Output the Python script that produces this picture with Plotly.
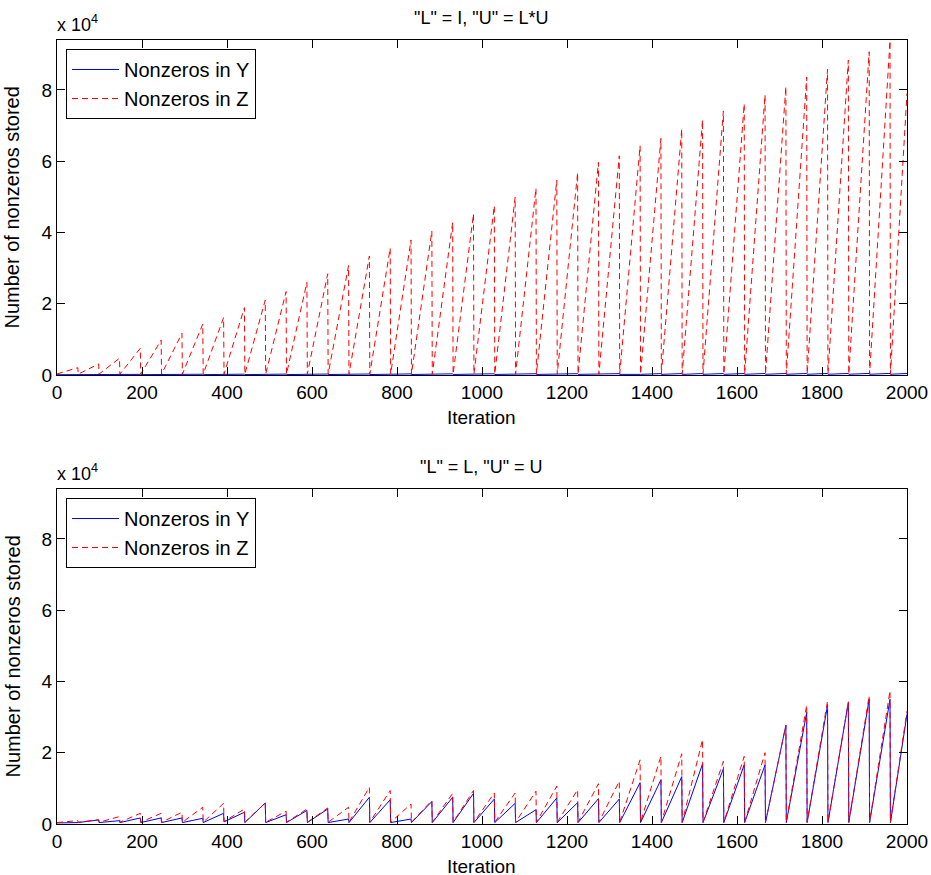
import plotly.graph_objects as go

# ---------------- data ----------------
reset_iters = [49, 98, 147, 196, 245, 294, 343, 392, 441, 490,
               539, 588, 637, 686, 735, 784, 833, 882, 931, 980,
               1029, 1078, 1127, 1176, 1225, 1274, 1323, 1372, 1421, 1470,
               1519, 1568, 1617, 1666, 1715, 1764, 1813, 1862, 1911, 1960, 2000]

# top panel: "L" = I, "U" = L*U
top_z_start = [300, 250, 250, 250, 250, 250, 250, 250, 250, 250,
               250, 250, 250, 250, 250, 250, 250, 250, 250, 250,
               250, 250, 250, 250, 250, 250, 250, 250, 250, 250,
               250, 250, 250, 250, 250, 250, 250, 250, 250, 250, 250]
top_z_peak = [2050, 3100, 4700, 7500, 9800, 11700, 14300, 16100, 18900, 21000,
              23400, 26000, 28400, 30700, 33400, 35600, 37900, 40400, 42800, 45200,
              47500, 49900, 52400, 54700, 56800, 59700, 61500, 64300, 66400, 69000,
              71600, 74100, 76100, 78600, 80900, 83600, 85800, 88400, 90700, 93800, 79000]
top_y_start = [80, 80, 90, 90, 100, 100, 100, 110, 110, 110,
               120, 120, 120, 130, 130, 130, 140, 140, 140, 150,
               150, 150, 160, 160, 160, 170, 170, 170, 180, 180,
               180, 190, 190, 190, 200, 200, 200, 210, 210, 210, 220]
top_y_peak = [150, 160, 170, 180, 190, 200, 210, 220, 230, 240,
              250, 260, 270, 280, 290, 300, 310, 320, 330, 340,
              350, 355, 360, 365, 370, 375, 380, 385, 390, 395,
              400, 405, 410, 415, 420, 425, 430, 435, 440, 445, 420]

# bottom panel: "L" = L, "U" = U
bot_y_start = [300, 400, 400, 400, 400, 400, 400, 400, 600, 400,
               400, 400, 400, 400, 400, 400, 400, 400, 400, 400,
               400, 400, 400, 400, 400, 400, 400, 400, 400, 400,
               400, 400, 400, 400, 400, 400, 400, 400, 400, 400, 400]
bot_y_peak = [470, 1130, 940, 1700, 1700, 1700, 1600, 3000, 3300, 5900,
              2600, 3800, 4200, 1400, 7500, 6800, 1400, 6300, 7500, 8600,
              7000, 5800, 4000, 7300, 6000, 7100, 7000, 11600, 12400, 13300,
              16900, 15500, 16600, 16600, 27700, 31300, 33300, 34100, 35000, 35000, 30800]
bot_z_start = [400, 500, 500, 500, 500, 500, 500, 500, 700, 500,
               500, 500, 500, 500, 500, 500, 500, 500, 500, 500,
               500, 500, 500, 500, 500, 500, 500, 500, 500, 500,
               500, 500, 500, 500, 500, 500, 500, 500, 500, 500, 500]
bot_z_peak = [940, 1220, 2070, 3000, 3000, 3300, 4700, 5800, 4200, 5900,
              3600, 4200, 4500, 4700, 10300, 9400, 5600, 6600, 8600, 9400,
              8700, 8700, 9200, 10600, 9600, 11300, 12000, 18000, 19000, 19700,
              23700, 17600, 19000, 20000, 27700, 33300, 34500, 34300, 36000, 37400, 31700]

x_ticks = [0, 200, 400, 600, 800, 1000, 1200, 1400, 1600, 1800, 2000]
y_ticks = [0, 20000, 40000, 60000, 80000]
y_tick_text = ["0", "2", "4", "6", "8"]
titles = ['"L" = I, "U" = L*U', '"L" = L, "U" = U']


def saw(starts, peaks):
    xs, ys = [], []
    prev = 0
    for s, p, r in zip(starts, peaks, reset_iters):
        xs += [prev + 1 if prev else 0, r]
        ys += [s, p]
        prev = r
    return xs, ys


W, H = 931, 875
FONT = "Liberation Sans, Arial, Helvetica, sans-serif"
x0, x1 = 57, 907
panels = [(40, 375), (489, 824)]


def fx(px):
    return px / W


def fy(py):
    return 1 - py / H


fig = go.Figure()
blue = "rgb(0,0,255)"
red = "rgb(255,0,0)"

data_sets = [((top_y_start, top_y_peak), (top_z_start, top_z_peak)),
             ((bot_y_start, bot_y_peak), (bot_z_start, bot_z_peak))]

for i, ((ys_, yp_), (zs_, zp_)) in enumerate(data_sets):
    xa = "x" if i == 0 else "x2"
    ya = "y" if i == 0 else "y2"
    lg = "legend" if i == 0 else "legend2"
    bx, by = saw(ys_, yp_)
    zx, zy = saw(zs_, zp_)
    fig.add_trace(go.Scatter(x=bx, y=by, mode="lines", name="Nonzeros in Y",
                             line=dict(color=blue, width=1), xaxis=xa, yaxis=ya,
                             legend=lg))
    fig.add_trace(go.Scatter(x=zx, y=zy, mode="lines", name="Nonzeros in Z",
                             line=dict(color=red, width=1, dash="6px,4px"),
                             xaxis=xa, yaxis=ya, legend=lg))

axis_common = dict(showgrid=False, zeroline=False, showline=True, linecolor="black",
                   linewidth=1, mirror="ticks", ticks="inside", ticklen=8,
                   tickcolor="black", automargin=False,
                   tickfont=dict(family=FONT, size=19, color="black"))

for i, (t, b) in enumerate(panels):
    sfx = "" if i == 0 else "2"
    fig.layout["xaxis" + sfx] = dict(axis_common, domain=[fx(x0), fx(x1)], range=[0, 2000],
                                      tickvals=x_ticks, anchor="y" + sfx)
    fig.layout["yaxis" + sfx] = dict(axis_common, domain=[fy(b), fy(t)], range=[0, 94000],
                                      tickvals=y_ticks, ticktext=y_tick_text,
                                      anchor="x" + sfx)

annotations = []
legends = {}
for i, (t, b) in enumerate(panels):
    cx = (x0 + x1) / 2
    annotations.append(dict(text=titles[i], x=fx(cx), y=fy(t - 22), xref="paper", yref="paper",
                            showarrow=False, xanchor="center", yanchor="middle",
                            font=dict(family=FONT, size=18, color="black")))
    annotations.append(dict(text="x 10<sup>4</sup>", x=fx(x0 - 2), y=fy(t - 3), xref="paper",
                            yref="paper", showarrow=False, xanchor="left", yanchor="bottom",
                            font=dict(family=FONT, size=18, color="black")))
    annotations.append(dict(text="Number of nonzeros stored", x=fx(12), y=fy((t + b) / 2),
                            xref="paper", yref="paper", showarrow=False, textangle=-90,
                            xanchor="center", yanchor="middle",
                            font=dict(family=FONT, size=20, color="black")))
    annotations.append(dict(text="Iteration", x=fx(cx), y=fy(b + 30), xref="paper",
                            yref="paper", showarrow=False, xanchor="center", yanchor="top",
                            font=dict(family=FONT, size=19, color="black")))
    legends["legend" if i == 0 else "legend2"] = dict(
        x=fx(66), y=fy(t + 9), xanchor="left", yanchor="top",
        bgcolor="white", bordercolor="black", borderwidth=1,
        font=dict(family=FONT, size=20, color="black"), tracegroupgap=0,
        itemwidth=47)

fig.update_layout(width=W, height=H, margin=dict(l=0, r=0, t=0, b=0),
                  paper_bgcolor="white", plot_bgcolor="white", showlegend=True,
                  annotations=annotations, **legends)

fig.write_html("out.html")
